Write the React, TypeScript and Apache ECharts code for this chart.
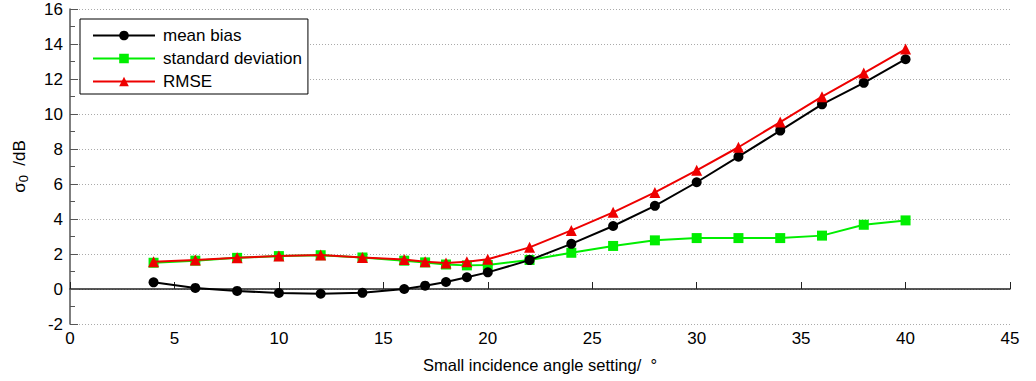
import React, { useEffect, useRef } from "react";
import * as echarts from "echarts";

const angles = [4, 6, 8, 10, 12, 14, 16, 17, 18, 19, 20, 22, 24, 26, 28, 30, 32, 34, 36, 38, 40];
const meanBias = [0.38, 0.06, -0.11, -0.23, -0.27, -0.22, 0.0, 0.19, 0.4, 0.67, 0.95, 1.65, 2.58, 3.6, 4.75, 6.1, 7.56, 9.05, 10.55, 11.78, 13.13];
const stdDev = [1.5, 1.62, 1.78, 1.88, 1.93, 1.8, 1.62, 1.52, 1.4, 1.35, 1.37, 1.66, 2.07, 2.46, 2.78, 2.91, 2.91, 2.91, 3.05, 3.67, 3.92];
const rmse = [1.56, 1.66, 1.79, 1.89, 1.94, 1.8, 1.68, 1.56, 1.49, 1.56, 1.7, 2.38, 3.35, 4.38, 5.52, 6.78, 8.1, 9.54, 10.99, 12.34, 13.71];

const font = "Liberation Sans, Arial, sans-serif";

export default function App() {
  const ref = useRef<HTMLDivElement>(null);
  useEffect(() => {
    const chart = echarts.init(ref.current!, null, { renderer: "svg" });
    const mk = (arr: number[]) => angles.map((a, i) => [a, arr[i]]);
    chart.setOption({
      animation: false,
      backgroundColor: "#fff",
      textStyle: { fontFamily: font },
      grid: { left: 70, top: 9, right: 26, bottom: 57 },
      legend: {
        left: 80,
        top: 19,
        orient: "vertical",
        padding: [8, 6, 4, 12],
        itemWidth: 62,
        itemHeight: 12,
        itemGap: 6,
        borderColor: "#000",
        borderWidth: 1,
        backgroundColor: "#fff",
        textStyle: { fontSize: 17, lineHeight: 17, color: "#000", fontFamily: font, padding: [0, 0, 0, 3] },
        data: ["mean bias", "standard deviation", "RMSE"],
      },
      xAxis: {
        type: "value",
        min: 0,
        max: 45,
        interval: 5,
        name: "Small incidence angle setting/  °",
        nameLocation: "middle",
        nameGap: 32,
        nameTextStyle: { fontSize: 16.5, color: "#000", fontFamily: font },
        axisLine: { lineStyle: { color: "#222", width: 1.5 } },
        axisTick: { inside: true, length: 7, lineStyle: { color: "#222" } },
        axisLabel: { fontSize: 17, color: "#000", margin: 6, fontFamily: font },
        splitLine: { show: false },
      },
      yAxis: {
        type: "value",
        min: -2,
        max: 16,
        interval: 2,
        name: "{s|σ}{sub|0}{s|  /dB}",
        nameLocation: "middle",
        nameGap: 40,
        nameTextStyle: {
          color: "#000",
          fontFamily: font,
          rich: {
            s: { fontSize: 17, color: "#000", fontFamily: font },
            sub: { fontSize: 13, color: "#000", fontFamily: font, verticalAlign: "bottom", padding: [9, 0, 0, 0] },
          },
        },
        axisLine: { show: true, lineStyle: { color: "#555", width: 1.5 } },
        axisTick: { show: true, inside: true, length: 8, lineStyle: { color: "#555" } },
        minorTick: { show: true, splitNumber: 2, length: 5, lineStyle: { color: "#555" } },
        axisLabel: { fontSize: 17, color: "#000", margin: 7, fontFamily: font },
        splitLine: { show: true, lineStyle: { color: "#aaa", type: [1, 2], width: 1 } },
      },
      series: [
        {
          name: "mean bias",
          type: "line",
          data: mk(meanBias),
          color: "#000",
          symbol: "circle",
          symbolSize: 10,
          lineStyle: { width: 2, color: "#000" },
          itemStyle: { color: "#000" },
          z: 3,
        },
        {
          name: "standard deviation",
          type: "line",
          data: mk(stdDev),
          color: "#00ee00",
          symbol: "rect",
          symbolSize: 10,
          lineStyle: { width: 2, color: "#00ee00" },
          itemStyle: { color: "#00ee00" },
          z: 2,
        },
        {
          name: "RMSE",
          type: "line",
          data: mk(rmse),
          color: "#ee0000",
          symbol: "triangle",
          symbolSize: 11,
          lineStyle: { width: 2, color: "#ee0000" },
          itemStyle: { color: "#ee0000" },
          z: 4,
        },
      ],
    });
    return () => chart.dispose();
  }, []);
  return <div ref={ref} style={{ width: 1036, height: 381, position: "absolute", left: 0, top: 0 }} />;
}
